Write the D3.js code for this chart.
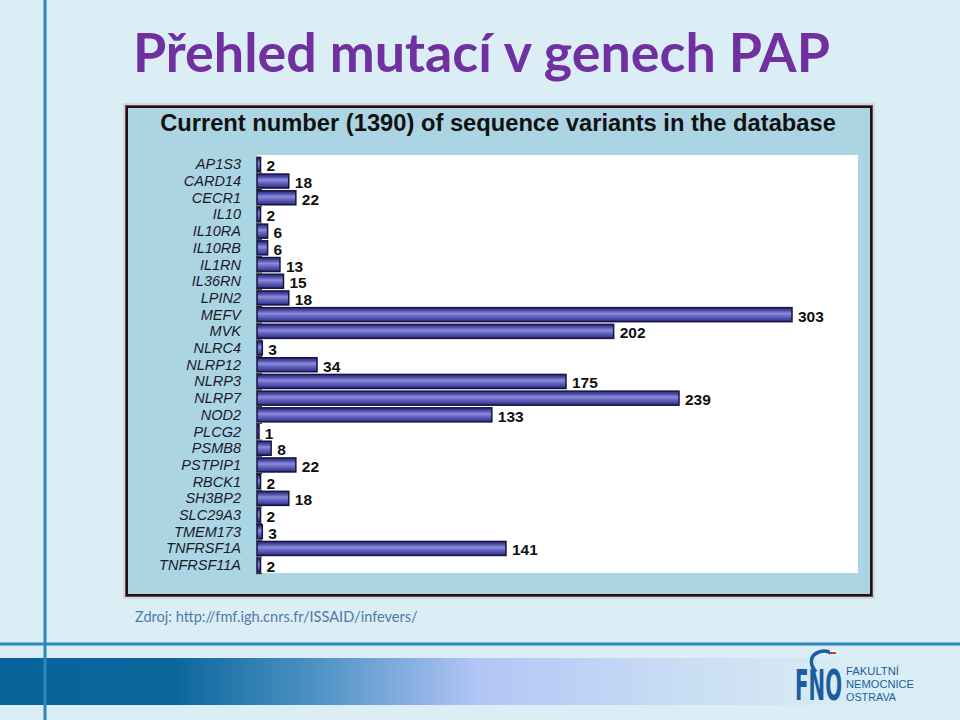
<!DOCTYPE html>
<html>
<head>
<meta charset="utf-8">
<script src="https://cdn.jsdelivr.net/npm/d3@7"></script>
<style>
  body { margin: 0; background: #dbeef5; }
  svg { display: block; }
</style>
</head>
<body>
<div id="wrapper"></div>
<script>
// data
const genes = ["AP1S3", "CARD14", "CECR1", "IL10", "IL10RA", "IL10RB", "IL1RN", "IL36RN", "LPIN2",
  "MEFV", "MVK", "NLRC4", "NLRP12", "NLRP3", "NLRP7", "NOD2", "PLCG2", "PSMB8", "PSTPIP1",
  "RBCK1", "SH3BP2", "SLC29A3", "TMEM173", "TNFRSF1A", "TNFRSF11A"]
const variants = [2, 18, 22, 2, 6, 6, 13, 15, 18, 303, 202, 3, 34, 175, 239, 133, 1, 8, 22, 2, 18, 2, 3, 141, 2]
const titleText = "Přehled mutací v genech PAP"
const chartTitle = "Current number (1390) of sequence variants in the database"
const sourceText = "Zdroj: http://fmf.igh.cnrs.fr/ISSAID/infevers/"
const logoLines = ["FAKULTNÍ", "NEMOCNICE", "OSTRAVA"]
const logoWidths = [53, 68, 50]

const dataset = genes.map((g, i) => ({ gene: g, n: variants[i] }))

const dimensions = { width: 960, height: 720 }

const svg = d3.select("#wrapper")
  .append("svg")
  .attr("width", dimensions.width)
  .attr("height", dimensions.height)

const defs = svg.append("defs")

// background
svg.append("rect")
  .attr("width", dimensions.width)
  .attr("height", dimensions.height)
  .attr("fill", "#dbeef5")

// fit text to a given width by adjusting font size
function fitWidth(sel, target) {
  const size = parseFloat(sel.attr("font-size"))
  const w = sel.node().getComputedTextLength()
  sel.attr("font-size", size * target / w)
}

// slide title
const title = svg.append("text")
  .attr("x", 133)
  .attr("y", 72)
  .attr("font-family", "Lato, 'Open Sans', sans-serif")
  .attr("font-weight", 700)
  .attr("font-size", 52)
  .attr("fill", "#7030a0")
  .text(titleText)
fitWidth(title, 697)

// picture frame of the chart
svg.append("rect")
  .attr("x", 123).attr("y", 103)
  .attr("width", 752).attr("height", 496)
  .attr("fill", "#c4dde6")
svg.append("rect")
  .attr("x", 126.5).attr("y", 106.5)
  .attr("width", 745).attr("height", 489)
  .attr("fill", "#acd5e3")
  .attr("stroke", "#7a4048")
  .attr("stroke-width", 3)
svg.append("rect")
  .attr("x", 127).attr("y", 107)
  .attr("width", 744).attr("height", 488)
  .attr("fill", "none")
  .attr("stroke", "#241014")
  .attr("stroke-width", 2)

const header = svg.append("text")
  .attr("x", 498)
  .attr("y", 131)
  .attr("text-anchor", "middle")
  .attr("font-family", "'Liberation Sans', Arial, sans-serif")
  .attr("font-weight", 700)
  .attr("font-size", 20)
  .attr("fill", "#111")
  .text(chartTitle)
fitWidth(header, 676)

// plot area
const plot = { left: 257, top: 155, right: 858, bottom: 573 }
svg.append("rect")
  .attr("x", plot.left).attr("y", plot.top)
  .attr("width", plot.right - plot.left)
  .attr("height", plot.bottom - plot.top)
  .attr("fill", "#ffffff")

// scales
const xScale = d3.scaleLinear()
  .domain([0, d3.max(dataset, d => d.n)])
  .range([plot.left, 792])

const yScale = d3.scaleBand()
  .domain(genes)
  .range([156, 573.5])
  .paddingInner(0.16)
  .paddingOuter(0.08)

// bar gradient
const grad = defs.append("linearGradient")
  .attr("id", "barGrad")
  .attr("x1", 0).attr("y1", 0).attr("x2", 0).attr("y2", 1)
grad.selectAll("stop")
  .data([
    [0, "#2a2a78"], [0.18, "#4646a4"], [0.42, "#8c8cd8"],
    [0.6, "#6a6ac4"], [0.85, "#4242a0"], [1, "#23236c"]
  ])
  .enter().append("stop")
  .attr("offset", d => d[0])
  .attr("stop-color", d => d[1])

const bars = svg.append("g")

bars.selectAll("rect")
  .data(dataset)
  .enter().append("rect")
  .attr("x", xScale(0))
  .attr("y", d => yScale(d.gene))
  .attr("width", d => Math.max(xScale(d.n) - xScale(0), 2))
  .attr("height", yScale.bandwidth())
  .attr("fill", "url(#barGrad)")
  .attr("stroke", "#15153f")
  .attr("stroke-width", 1.5)

// small shadow under the left end of each bar
bars.selectAll("line")
  .data(dataset)
  .enter().append("line")
  .attr("x1", xScale(0) - 1)
  .attr("x2", xScale(0) + 5)
  .attr("y1", d => yScale(d.gene) + yScale.bandwidth() + 1.5)
  .attr("y2", d => yScale(d.gene) + yScale.bandwidth() + 1.5)
  .attr("stroke", "#222")
  .attr("stroke-width", 1)

// value labels
svg.append("g")
  .selectAll("text")
  .data(dataset)
  .enter().append("text")
  .attr("x", d => xScale(d.n) + 6)
  .attr("y", d => yScale(d.gene) + yScale.bandwidth() / 2 + 7)
  .attr("font-family", "'Liberation Sans', Arial, sans-serif")
  .attr("font-weight", 700)
  .attr("font-size", 15.5)
  .attr("fill", "#111")
  .text(d => d.n)

// category labels
svg.append("g")
  .selectAll("text")
  .data(dataset)
  .enter().append("text")
  .attr("x", 241)
  .attr("y", d => yScale(d.gene) + yScale.bandwidth() / 2 + 5)
  .attr("text-anchor", "end")
  .attr("font-family", "'Liberation Sans', Arial, sans-serif")
  .attr("font-style", "italic")
  .attr("font-size", 14.5)
  .attr("fill", "#1a1a2a")
  .text(d => d.gene)

// source
const src = svg.append("text")
  .attr("x", 135)
  .attr("y", 622)
  .attr("font-family", "Lato, 'Open Sans', sans-serif")
  .attr("font-size", 15)
  .attr("fill", "#4f7aa6")
  .text(sourceText)
fitWidth(src, 283)

// bottom decoration
const bandGrad = defs.append("linearGradient")
  .attr("id", "bandGrad")
  .attr("x1", 0).attr("x2", 1).attr("y1", 0).attr("y2", 0)
bandGrad.selectAll("stop")
  .data([
    [0, "#08639b"], [0.18, "#0b669c"], [0.33, "#4f92c4"],
    [0.5, "#b2c6f6"], [0.7, "#c8dcf4"], [0.88, "#d8ecf4"], [1, "#dbeef5"]
  ])
  .enter().append("stop")
  .attr("offset", d => d[0])
  .attr("stop-color", d => d[1])

svg.append("rect")
  .attr("x", 0).attr("y", 658)
  .attr("width", 960).attr("height", 47)
  .attr("fill", "url(#bandGrad)")

svg.append("line")
  .attr("x1", 0).attr("x2", 960)
  .attr("y1", 644).attr("y2", 644)
  .attr("stroke", "#2a88bf")
  .attr("stroke-width", 3)

svg.append("line")
  .attr("x1", 45).attr("x2", 45)
  .attr("y1", 0).attr("y2", 720)
  .attr("stroke", "#2a88bf")
  .attr("stroke-width", 3)

// logo
const logo = svg.append("g").attr("fill", "#1b5e9e")
const fno = logo.append("text")
  .attr("font-family", "'DejaVu Sans Condensed', 'DejaVu Sans', sans-serif")
  .attr("font-weight", 700)
  .attr("font-size", 20)
  .text("FNO")
const fnoW = fno.node().getComputedTextLength()
fno.attr("transform", `translate(795,700) scale(${47 / fnoW},2.15)`)

logo.append("path")
  .attr("d", "M816,672 C809,664 810,655 819,652 C824,650 828,651 831,653")
  .attr("fill", "none")
  .attr("stroke", "#1b5e9e")
  .attr("stroke-width", 3.5)
logo.append("rect").attr("x", 830).attr("y", 652).attr("width", 6).attr("height", 2).attr("fill", "#d8343a")
logo.append("rect").attr("x", 830).attr("y", 650).attr("width", 6).attr("height", 2).attr("fill", "#ffffff")

logo.selectAll(".ll")
  .data(logoLines)
  .enter().append("text")
  .attr("class", "ll")
  .attr("x", 846)
  .attr("y", (d, i) => 675 + i * 13)
  .attr("font-family", "'Liberation Sans', Arial, sans-serif")
  .attr("font-size", 11)
  .attr("textLength", (d, i) => logoWidths[i])
  .attr("lengthAdjust", "spacingAndGlyphs")
  .text(d => d)
</script>
</body>
</html>
